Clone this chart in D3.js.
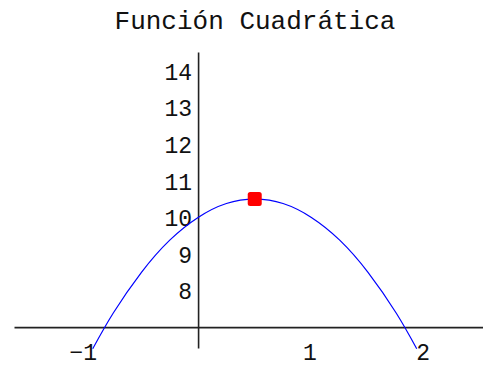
<!DOCTYPE html>
<html>
<head>
<meta charset="utf-8">
<script src="https://cdn.jsdelivr.net/npm/d3@7"></script>
<style>
  html, body { margin: 0; padding: 0; background: #fff; }
  svg { display: block; }
  text { font-family: "Liberation Mono", "Courier New", monospace; fill: #111; }
</style>
</head>
<body>
<svg id="chart" width="483" height="369"></svg>
<script>
// Sampled points along the parabola
const curveX = [-0.93, -0.75, -0.5, -0.25, 0, 0.25, 0.5, 0.75, 1, 1.25, 1.5, 1.75, 1.93];
const curveY = [6.41, 7.38, 8.5, 9.38, 10, 10.38, 10.5, 10.38, 10, 9.38, 8.5, 7.38, 6.41];
// Vertex marker
const vertexX = [0.5];
const vertexY = [10.5];
// Tick labels
const xTicks = [-1, 1, 2];
const yTicks = [8, 9, 10, 11, 12, 13, 14];
const title = "Función Cuadrática";

const svg = d3.select("#chart");

const x = d3.scaleLinear().domain([-1.625, 2.515]).range([14, 483]);
const y = d3.scaleLinear().domain([6.43, 14.52]).range([348, 52]);

// Title
svg.append("text")
  .attr("x", 255).attr("y", 29)
  .attr("text-anchor", "middle")
  .style("font-size", "26px")
  .text(title);

// Horizontal axis, crossing at y = 7
const xAxis = svg.append("g")
  .attr("transform", `translate(0,${y(7)})`)
  .call(d3.axisBottom(x).tickValues(xTicks).tickSize(0).tickPadding(17)
    .tickFormat(d => d < 0 ? "\u2212" + Math.abs(d) : String(d)));

// Vertical axis at x = 0
const yAxis = svg.append("g")
  .attr("transform", `translate(${x(0)},0)`)
  .call(d3.axisLeft(y).tickValues(yTicks).tickSize(0).tickPadding(6));

[xAxis, yAxis].forEach(g => {
  g.select(".domain").attr("stroke", "#222").attr("stroke-width", 1.6);
  g.selectAll("text").style("font-size", "23px").style("font-family", "'Liberation Mono', monospace").attr("fill", "#111");
});
yAxis.selectAll("text").attr("dy", "0.36em");
xAxis.selectAll("text").attr("dx", "-2px");

// Parabola
const pts = curveX.map((v, i) => [v, curveY[i]]);
svg.append("path")
  .datum(pts)
  .attr("fill", "none")
  .attr("stroke", "#0000ff")
  .attr("stroke-width", 1.2)
  .attr("d", d3.line().x(d => x(d[0])).y(d => y(d[1])).curve(d3.curveNatural));

// Vertex
svg.selectAll("rect.vertex")
  .data(vertexX.map((v, i) => [v, vertexY[i]]))
  .join("rect")
  .attr("class", "vertex")
  .attr("x", d => x(d[0]) - 7)
  .attr("y", d => y(d[1]) - 7)
  .attr("width", 14).attr("height", 14)
  .attr("rx", 2.5)
  .attr("fill", "#ff0000");
</script>
</body>
</html>
